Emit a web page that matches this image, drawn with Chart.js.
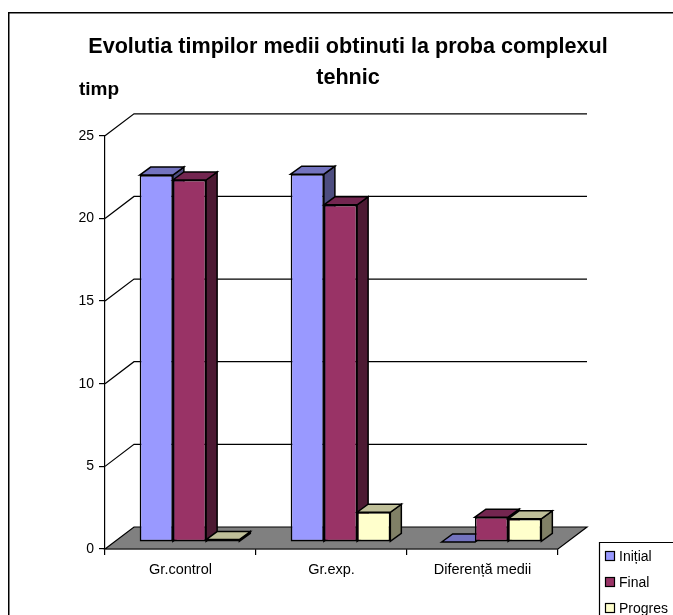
<!DOCTYPE html>
<html>
<head>
<meta charset="utf-8">
<title>Evolutia timpilor medii</title>
<script src="https://cdn.jsdelivr.net/npm/chart.js@4"></script>
<style>
    html, body { margin: 0; padding: 0; width: 673px; height: 615px; overflow: hidden; background: #fff; }
    canvas { position: absolute; left: 8px; top: 12px; }
</style>
</head>
<body>
<canvas id="timeChart" width="680" height="630"></canvas>
<script>
document.addEventListener('DOMContentLoaded', () => {
    const categories = ['Gr.control', 'Gr.exp.', 'Diferență medii'];
    const initial = [22.2, 22.25, 0];
    const final = [21.9, 20.4, 1.5];
    const progres = [0.15, 1.8, 1.4];
    const titleLines = ['Evolutia timpilor medii obtinuti la proba complexul', 'tehnic'];
    const yLabel = 'timp';

    const FONT = '"Liberation Sans", Arial, sans-serif';

    // 3D look: how far the back wall and the bars sit from the front axes
    const wall = { dx: 29, dy: 22 };
    const barShift = { dx: 9, dy: 7 };
    const barDepth = { dx: 11, dy: 8 };

    const sideColors = [
        { top: '#7373bf', side: '#4d4d80' },
        { top: '#732650', side: '#4d1a33' },
        { top: '#bfbf99', side: '#808066' }
    ];

    const poly = (ctx, pts, fill) => {
        ctx.beginPath();
        pts.forEach((p, i) => i ? ctx.lineTo(p[0], p[1]) : ctx.moveTo(p[0], p[1]));
        ctx.closePath();
        ctx.fillStyle = fill;
        ctx.fill();
        ctx.stroke();
    };

    const drawFaces = (ctx, meta, colors) => {
        meta.data.forEach(el => {
            const l = el.x - el.width / 2;
            const r = el.x + el.width / 2;
            poly(ctx, [
                [r, el.y],
                [r + barDepth.dx, el.y - barDepth.dy],
                [r + barDepth.dx, el.base - barDepth.dy],
                [r, el.base]
            ], colors.side);
            poly(ctx, [
                [l, el.y],
                [l + barDepth.dx, el.y - barDepth.dy],
                [r + barDepth.dx, el.y - barDepth.dy],
                [r, el.y]
            ], colors.top);
        });
    };

    const walls = {
        id: 'walls',
        afterLayout(chart) {
            // title is centred on the whole frame, not on the plot
            chart.titleBlock.left = 0;
            chart.titleBlock.right = chart.width;
        },
        beforeDatasetsDraw(chart) {
            const { ctx, chartArea: a, scales: { y } } = chart;
            ctx.save();
            ctx.strokeStyle = '#000';
            ctx.lineWidth = 1.2;
            y.ticks.forEach(t => {
                if (t.value === 0) return;
                const py = y.getPixelForValue(t.value);
                ctx.beginPath();
                ctx.moveTo(a.left, py);
                ctx.lineTo(a.left + wall.dx, py - wall.dy);
                ctx.lineTo(a.right + wall.dx, py - wall.dy);
                ctx.stroke();
            });
            poly(ctx, [
                [a.left, a.bottom],
                [a.left + wall.dx, a.bottom - wall.dy],
                [a.right + wall.dx, a.bottom - wall.dy],
                [a.right, a.bottom]
            ], '#808080');
            ctx.restore();
        },
        beforeDatasetDraw() {
            // bars are painted left to right in afterDatasetsDraw instead
            return false;
        },
        afterDatasetsDraw(chart) {
            const { ctx } = chart;
            ctx.save();
            ctx.translate(barShift.dx, -barShift.dy);
            chart.getSortedVisibleDatasetMetas().forEach((meta, i) => {
                ctx.save();
                ctx.strokeStyle = '#000';
                ctx.lineWidth = 1.5;
                drawFaces(ctx, meta, sideColors[i]);
                ctx.restore();
                meta.controller.draw();
            });
            ctx.restore();
        },
        afterDraw(chart) {
            const { ctx, width, height } = chart;
            ctx.save();
            // chart frame
            ctx.strokeStyle = '#000';
            ctx.lineWidth = 2;
            ctx.strokeRect(0.5, 0.5, width + 20, height + 20);
            // y axis name
            ctx.fillStyle = '#000';
            ctx.font = 'bold 19px ' + FONT;
            ctx.textAlign = 'left';
            ctx.textBaseline = 'middle';
            ctx.fillText(yLabel, 71, 78);
            // legend
            const box = { x: 591.5, y: 530.5 };
            ctx.lineWidth = 1.2;
            ctx.fillStyle = '#fff';
            ctx.beginPath();
            ctx.rect(box.x, box.y, 200, 200);
            ctx.fill();
            ctx.stroke();
            ctx.font = '14px ' + FONT;
            chart.data.datasets.forEach((ds, i) => {
                const rowY = 544 + i * 26;
                ctx.fillStyle = ds.backgroundColor;
                ctx.fillRect(597.5, rowY - 4.5, 9, 9);
                ctx.strokeRect(597.5, rowY - 4.5, 9, 9);
                ctx.fillStyle = '#000';
                ctx.fillText(ds.label, 611, rowY + 1);
            });
            ctx.restore();
        }
    };

    const barStyle = {
        borderColor: '#000',
        borderWidth: 1.6,
        borderSkipped: false,
        categoryPercentage: 0.66,
        barPercentage: 1
    };

    new Chart(document.getElementById('timeChart'), {
        type: 'bar',
        data: {
            labels: categories,
            datasets: [
                { label: 'Inițial', data: initial, backgroundColor: '#9999ff', ...barStyle },
                { label: 'Final', data: final, backgroundColor: '#993366', ...barStyle },
                { label: 'Progres', data: progres, backgroundColor: '#ffffcc', ...barStyle }
            ]
        },
        plugins: [walls],
        options: {
            responsive: false,
            animation: false,
            layout: { padding: { left: 0, right: 130, top: 0, bottom: 0 } },
            plugins: {
                legend: { display: false },
                tooltip: { enabled: false },
                title: {
                    display: true,
                    text: titleLines,
                    color: '#000',
                    font: { family: FONT, size: 21.6, weight: 'bold', lineHeight: 1.43 },
                    padding: { top: 20, bottom: 42 }
                }
            },
            scales: {
                x: {
                    afterFit: s => { s.height = 93; },
                    grid: { drawOnChartArea: false, color: '#000', lineWidth: 1.2, tickLength: 6 },
                    border: { color: '#000', width: 1.2 },
                    ticks: { color: '#000', font: { family: FONT, size: 14.5 }, padding: 6, maxRotation: 0 }
                },
                y: {
                    min: 0,
                    max: 25,
                    afterFit: s => { s.width = 97; },
                    grid: { drawOnChartArea: false, color: '#000', lineWidth: 1.2, tickLength: 6 },
                    border: { color: '#000', width: 1.2 },
                    ticks: { stepSize: 5, color: '#000', font: { family: FONT, size: 14 }, padding: 5 }
                }
            }
        }
    });
});
</script>
</body>
</html>
